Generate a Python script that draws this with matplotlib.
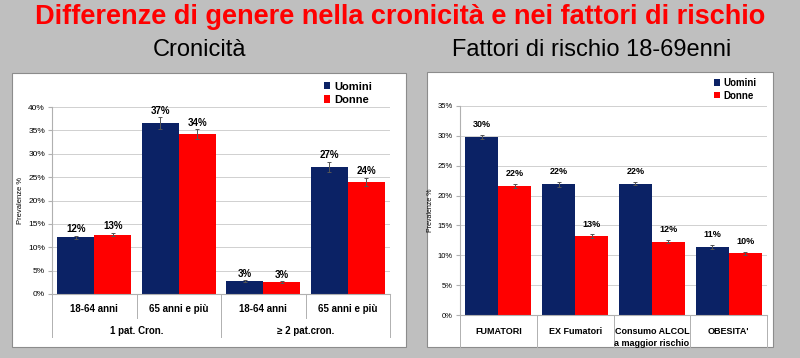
import numpy as np
import matplotlib.pyplot as plt
from matplotlib.patches import Rectangle

plt.rcParams['font.family'] = ['Liberation Sans', 'DejaVu Sans']

# dati - cronicità
cron_cat = ['18-64 anni', '65 anni e più', '18-64 anni', '65 anni e più']
cron_groups = ['1 pat. Cron.', '≥ 2 pat.cron.']
cron_uomini = [12.1, 36.6, 2.7, 27.2]
cron_donne = [12.7, 34.2, 2.6, 24.0]
cron_err_u = [0.4, 1.2, 0.2, 1.1]
cron_err_d = [0.4, 1.0, 0.2, 0.9]
cron_lab_u = ['12%', '37%', '3%', '27%']
cron_lab_d = ['13%', '34%', '3%', '24%']

# dati - fattori di rischio
fatt_cat = ['FUMATORI', 'EX Fumatori', 'Consumo ALCOL\na maggior rischio', "OBESITA'"]
fatt_uomini = [29.8, 21.9, 22.0, 11.4]
fatt_donne = [21.6, 13.2, 12.3, 10.3]
fatt_err_u = [0.4, 0.4, 0.3, 0.4]
fatt_err_d = [0.4, 0.3, 0.3, 0.3]
fatt_lab_u = ['30%', '22%', '22%', '11%']
fatt_lab_d = ['22%', '13%', '12%', '10%']

BLU = '#0b2265'
ROSSO = '#ff0000'
W, H = 800, 358

fig = plt.figure(figsize=(8, 3.58), dpi=100)
fig.patch.set_facecolor('#bfbfbf')


def px_axes(x0, y0, x1, y1):
    ax = fig.add_axes([x0 / W, 1 - y1 / H, (x1 - x0) / W, (y1 - y0) / H])
    ax.set_zorder(2)
    ax.patch.set_alpha(0)
    return ax


# pannelli bianchi
for (x0, y0, x1, y1) in [(12, 73, 406, 347), (427, 72, 773, 347)]:
    fig.patches.append(Rectangle((x0 / W, 1 - y1 / H), (x1 - x0) / W, (y1 - y0) / H,
                                 transform=fig.transFigure, facecolor='white',
                                 edgecolor='#8c8c8c', linewidth=0.8, zorder=0))

fig.text(0.5, 1 - 17 / H, 'Differenze di genere nella cronicità e nei fattori di rischio',
         color='#ff0000', fontsize=19.5, fontweight='bold', ha='center', va='center')
fig.text(200 / W, 1 - 50 / H, 'Cronicità', fontsize=17, ha='center', va='center')
fig.text(592 / W, 1 - 50 / H, 'Fattori di rischio 18-69enni', fontsize=17,
         ha='center', va='center')


def bars(ax, uomini, donne, eu, ed, lu, ld, bw, fs, off):
    x = np.arange(len(uomini))
    b1 = ax.bar(x - bw / 2, uomini, bw, color=BLU, label='Uomini', zorder=2)
    b2 = ax.bar(x + bw / 2, donne, bw, color=ROSSO, label='Donne', zorder=2)
    ax.errorbar(x - bw / 2, uomini, yerr=eu, fmt='none', ecolor='#555555', elinewidth=0.7,
                capsize=1.5, capthick=0.7, zorder=3)
    ax.errorbar(x + bw / 2, donne, yerr=ed, fmt='none', ecolor='#555555', elinewidth=0.7,
                capsize=1.5, capthick=0.7, zorder=3)
    for xi, v, e, t in zip(x - bw / 2, uomini, eu, lu):
        ax.annotate(t, (xi, v + e), xytext=(0, off), textcoords='offset points',
                    ha='center', va='bottom', fontsize=fs, fontweight='bold')
    for xi, v, e, t in zip(x + bw / 2, donne, ed, ld):
        ax.annotate(t, (xi, v + e), xytext=(0, off), textcoords='offset points',
                    ha='center', va='bottom', fontsize=fs, fontweight='bold')
    ax.set_xlim(-0.5, len(uomini) - 0.5)
    ax.set_xticks([])
    ax.grid(axis='y', color='#d0d0d0', linewidth=0.7, zorder=0)
    ax.set_axisbelow(True)
    for s in ['top', 'right']:
        ax.spines[s].set_visible(False)
    ax.spines['left'].set_color('#b0b0b0')
    ax.spines['bottom'].set_color('#b0b0b0')
    ax.tick_params(axis='y', length=3, color='#b0b0b0', labelsize=6, pad=2)
    ax.yaxis.set_major_formatter(lambda v, p: f'{v:.0f}%')
    return b1, b2


# grafico sinistro
ax1 = px_axes(52, 107, 390, 294)
hb1 = bars(ax1, cron_uomini, cron_donne, cron_err_u, cron_err_d, cron_lab_u, cron_lab_d,
           0.435, 7, 1)
ax1.set_ylim(0, 40)
ax1.set_yticks(np.arange(0, 41, 5))
ax1.set_ylabel('Prevalenze %', fontsize=5.5, labelpad=3)
h1 = 187
for i, t in enumerate(cron_cat):
    ax1.text(i, -15 / h1, t, transform=ax1.get_xaxis_transform(), ha='center', va='center',
             fontsize=7, fontweight='bold')
for i, t in enumerate(cron_groups):
    ax1.text(i * 2 + 0.5, -37 / h1, t, transform=ax1.get_xaxis_transform(), ha='center',
             va='center', fontsize=7, fontweight='bold')
for xb in [-0.5, 0.5, 1.5, 2.5, 3.5]:
    depth = 43 if xb in (-0.5, 1.5, 3.5) else 24
    ax1.plot([xb, xb], [0, -depth / h1], transform=ax1.get_xaxis_transform(),
             color='#b0b0b0', linewidth=0.7, clip_on=False)
leg1 = fig.legend(handles=hb1, labels=['Uomini', 'Donne'], loc='upper left',
                  bbox_to_anchor=(318 / W, 1 - 76 / H), frameon=False,
                  prop={'weight': 'bold', 'size': 8}, handlelength=0.6, handleheight=0.6,
                  handletextpad=0.4, labelspacing=0.3, borderpad=0)
leg1.set_zorder(5)

# grafico destro
ax2 = px_axes(460, 106, 767, 315)
hb2 = bars(ax2, fatt_uomini, fatt_donne, fatt_err_u, fatt_err_d, fatt_lab_u, fatt_lab_d,
           0.43, 6.5, 4)
ax2.set_ylim(0, 35)
ax2.set_yticks(np.arange(0, 36, 5))
ax2.tick_params(axis='y', labelsize=5.5)
ax2.set_ylabel('Prevalenze %', fontsize=5, labelpad=3)
h2 = 209
for i, t in enumerate(fatt_cat):
    ax2.text(i, -12 / h2, t, transform=ax2.get_xaxis_transform(), ha='center', va='top',
             fontsize=6.5, fontweight='bold', linespacing=1.5)
for xb in [-0.5, 0.5, 1.5, 2.5, 3.5]:
    ax2.plot([xb, xb], [0, -32 / h2], transform=ax2.get_xaxis_transform(),
             color='#b0b0b0', linewidth=0.7, clip_on=False)
leg2 = fig.legend(handles=hb2, labels=['Uomini', 'Donne'], loc='upper left',
                  bbox_to_anchor=(709 / W, 1 - 73 / H), frameon=False,
                  prop={'weight': 'bold', 'size': 7}, handlelength=0.6, handleheight=0.6,
                  handletextpad=0.4, labelspacing=0.3, borderpad=0)
leg2.set_zorder(5)

fig.savefig('out.png', dpi=100, facecolor=fig.get_facecolor())
